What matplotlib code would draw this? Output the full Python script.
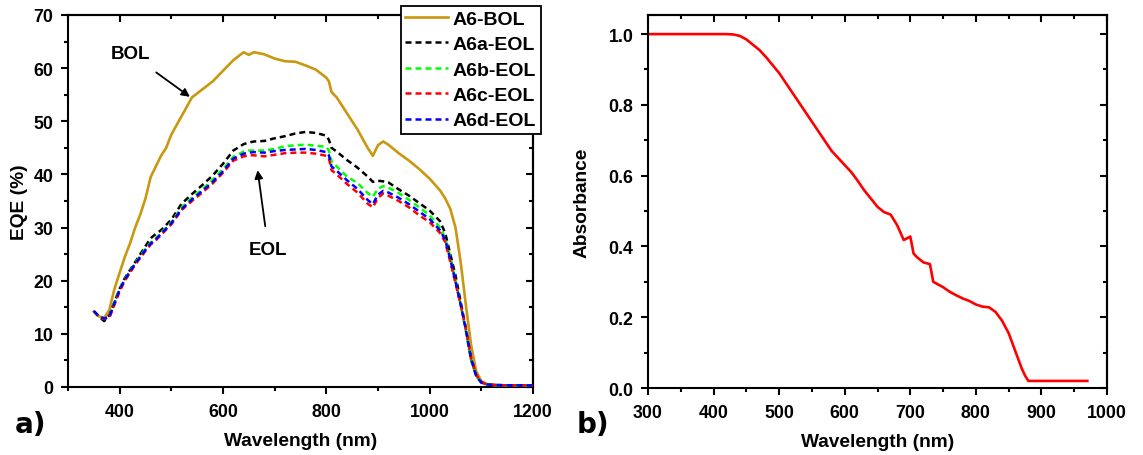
import matplotlib
matplotlib.use("Agg")
import matplotlib.pyplot as plt
from matplotlib.ticker import MultipleLocator, FormatStrFormatter

# ---------------- data: EQE (panel a) ----------------
wavelength = [350, 360, 370, 380, 390, 400, 410, 420, 430, 440, 450, 460, 470, 480, 490,
              500, 520, 540, 560, 580, 600, 620, 640, 650, 660, 680, 700, 720, 740, 760,
              780, 800, 805, 810, 820, 840, 860, 880, 890, 900, 910, 920, 940, 960, 980,
              1000, 1020, 1030, 1040, 1050, 1060, 1070, 1080, 1090, 1100, 1110, 1120, 1150, 1200]

a6_bol = [14.2, 13.3, 13.0, 14.5, 18.5, 21.5, 24.5, 27.0, 30.0, 32.5, 35.5, 39.5, 41.5, 43.5, 45.0,
          47.5, 51.0, 54.5, 56.0, 57.5, 59.5, 61.5, 63.0, 62.5, 63.0, 62.6, 61.8, 61.3, 61.2, 60.5,
          59.7, 58.2, 57.5, 55.5, 54.5, 51.5, 48.5, 45.0, 43.5, 45.5, 46.2, 45.6, 44.0, 42.6, 41.0,
          39.2, 37.0, 35.5, 33.5, 30.0, 23.5, 15.5, 8.0, 3.0, 1.1, 0.6, 0.4, 0.3, 0.3]

a6a_eol = [14.2, 13.2, 12.4, 13.5, 16.0, 18.5, 20.5, 22.0, 23.5, 25.0, 26.5, 28.0, 28.8, 29.5, 30.5,
           31.5, 34.5, 36.3, 38.0, 39.8, 42.0, 44.5, 45.7, 46.0, 46.2, 46.3, 46.8, 47.2, 47.7, 48.0,
           47.8, 47.3, 46.5, 45.0, 44.3, 42.7, 41.3, 39.6, 38.6, 38.8, 38.7, 38.5, 37.2, 36.0, 34.6,
           33.2, 31.2, 29.0, 25.0, 21.0, 16.0, 11.0, 5.5, 2.2, 0.9, 0.5, 0.4, 0.3, 0.3]

a6b_eol = [14.2, 13.2, 12.8, 13.2, 16.0, 18.5, 20.3, 21.8, 23.3, 24.7, 26.0, 27.2, 28.0, 29.0, 30.0,
           31.0, 33.8, 35.6, 37.2, 39.0, 41.0, 43.3, 44.3, 44.5, 44.5, 44.5, 44.8, 45.3, 45.5, 45.6,
           45.4, 45.2, 44.5, 42.5, 41.5, 39.6, 38.4, 36.5, 35.8, 37.3, 37.8, 37.5, 36.5, 35.2, 33.8,
           32.3, 30.0, 28.0, 24.5, 20.0, 15.5, 10.5, 5.0, 2.0, 0.8, 0.5, 0.4, 0.3, 0.3]

a6c_eol = [14.3, 13.2, 12.8, 13.0, 15.5, 18.0, 20.0, 21.5, 23.0, 24.3, 25.6, 26.8, 27.6, 28.6, 29.6,
           30.6, 33.3, 35.0, 36.6, 38.3, 40.3, 42.6, 43.4, 43.6, 43.6, 43.4, 43.7, 44.0, 44.1, 44.1,
           43.9, 43.5, 43.0, 40.8, 40.0, 38.2, 36.6, 34.5, 33.8, 35.6, 36.4, 36.0, 35.0, 33.8, 32.3,
           31.0, 29.0, 27.3, 23.5, 19.5, 15.5, 11.0, 5.5, 2.3, 0.9, 0.5, 0.4, 0.3, 0.3]

a6d_eol = [14.3, 13.3, 12.9, 13.2, 15.8, 18.3, 20.2, 21.7, 23.2, 24.5, 25.8, 27.0, 27.8, 28.8, 29.8,
           30.8, 33.5, 35.3, 36.9, 38.6, 40.6, 43.0, 43.9, 44.1, 44.2, 44.1, 44.4, 44.6, 44.7, 44.8,
           44.6, 44.2, 43.6, 41.5, 40.7, 38.9, 37.3, 35.2, 34.4, 36.2, 36.9, 36.6, 35.6, 34.4, 33.0,
           31.6, 29.5, 27.7, 24.0, 19.8, 15.5, 10.8, 5.3, 2.1, 0.8, 0.5, 0.4, 0.3, 0.3]

series_labels = ["A6-BOL", "A6a-EOL", "A6b-EOL", "A6c-EOL", "A6d-EOL"]

# ---------------- data: absorbance (panel b) ----------------
wavelength_abs = [300, 420, 430, 440, 450, 460, 470, 480, 500, 520, 540, 560, 580, 600, 610, 620,
                  630, 640, 650, 660, 670, 680, 690, 700, 705, 710, 720, 730, 735, 740, 750, 760,
                  770, 780, 790, 800, 810, 820, 830, 840, 850, 860, 870, 875, 880, 970]
absorbance = [1.0, 1.0, 0.999, 0.995, 0.985, 0.97, 0.955, 0.935, 0.89, 0.835, 0.78, 0.725, 0.67, 0.63,
              0.61, 0.585, 0.558, 0.535, 0.512, 0.497, 0.49, 0.46, 0.418, 0.428, 0.38, 0.37, 0.355,
              0.35, 0.30, 0.295, 0.285, 0.272, 0.262, 0.253, 0.246, 0.236, 0.23, 0.228, 0.215, 0.19,
              0.155, 0.105, 0.055, 0.035, 0.02, 0.02]

# ---------------- styling ----------------
TICKFONT = dict(family="Liberation Sans", weight="bold", size=12.8)
LABELFONT = dict(family="Liberation Sans", weight="bold", fontsize=13.8)
W, H = 1143, 456
fig = plt.figure(figsize=(W / 100, H / 100), dpi=100)

def axes_px(l, t, r, b):
    return fig.add_axes([l / W, 1 - b / H, (r - l) / W, (b - t) / H])

def style_axes(ax, xmaj, xmin, ymaj, ymin, yfmt):
    for sp in ax.spines.values():
        sp.set_linewidth(1.5)
    ax.xaxis.set_major_locator(MultipleLocator(xmaj))
    ax.xaxis.set_minor_locator(MultipleLocator(xmin))
    ax.yaxis.set_major_locator(MultipleLocator(ymaj))
    ax.yaxis.set_minor_locator(MultipleLocator(ymin))
    ax.yaxis.set_major_formatter(FormatStrFormatter(yfmt))
    ax.tick_params(which="both", direction="out", top=False, right=False, width=1.5)
    ax.tick_params(axis="x", pad=6.5)
    ax.tick_params(axis="y", pad=5.5)
    ax.tick_params(which="major", length=5)
    ax.tick_params(which="minor", length=3)
    for lab in ax.get_xticklabels() + ax.get_yticklabels():
        lab.set_fontproperties(matplotlib.font_manager.FontProperties(**TICKFONT))
    secx = ax.secondary_xaxis("top")
    secx.xaxis.set_major_locator(MultipleLocator(xmaj))
    secx.xaxis.set_minor_locator(MultipleLocator(xmin))
    secx.tick_params(which="both", direction="in", labeltop=False, width=1.5)
    secx.tick_params(which="major", length=5)
    secx.tick_params(which="minor", length=3)
    secx.spines["top"].set_linewidth(1.5)
    secy = ax.secondary_yaxis("right")
    secy.yaxis.set_major_locator(MultipleLocator(ymaj))
    secy.yaxis.set_minor_locator(MultipleLocator(ymin))
    secy.tick_params(which="both", direction="in", labelright=False, width=1.5)
    secy.tick_params(which="major", length=5)
    secy.tick_params(which="minor", length=3)
    secy.spines["right"].set_linewidth(1.5)

# ---------------- panel a ----------------
ax1 = axes_px(68, 16, 533, 388)
colors = ["#C9980F", "black", "#00FF00", "#FF0000", "#0000FF"]
all_series = [a6_bol, a6a_eol, a6b_eol, a6c_eol, a6d_eol]
for i, (ys, c, lab) in enumerate(zip(all_series, colors, series_labels)):
    if i == 0:
        ax1.plot(wavelength, ys, color=c, lw=1.9, label=lab, zorder=3)
    else:
        ax1.plot(wavelength, ys, color=c, lw=1.8, ls=(0, (2.4, 1.6)), label=lab, zorder=3)
ax1.set_xlim(300, 1200)
ax1.set_ylim(0, 70)
style_axes(ax1, 200, 100, 10, 5, "%d")
ax1.set_ylabel("EQE (%)", labelpad=4, **LABELFONT)
ax1.set_xlabel("Wavelength (nm)", labelpad=9, **LABELFONT)

ax1.annotate("BOL", xy=(536, 54.6), xytext=(421, 62.7), ha="center", va="center",
             family="Liberation Sans", weight="bold", fontsize=13.5,
             arrowprops=dict(arrowstyle="-|>", color="black", lw=1.3, mutation_scale=12,
                             shrinkA=9, shrinkB=0))
ax1.annotate("EOL", xy=(667, 40.8), xytext=(688, 25.8), ha="center", va="center",
             family="Liberation Sans", weight="bold", fontsize=13.5,
             arrowprops=dict(arrowstyle="-|>", color="black", lw=1.3, mutation_scale=12,
                             shrinkA=9, shrinkB=0))

leg = ax1.legend(loc="upper left", bbox_to_anchor=(401 / W, 1 - 7 / H),
                 bbox_transform=fig.transFigure, borderaxespad=0, frameon=True,
                 fancybox=False, edgecolor="black", framealpha=1,
                 prop=dict(family="Liberation Sans", weight="bold", size=14.0),
                 handlelength=2.2, handletextpad=0.25, labelspacing=0.4, borderpad=0.22)
leg.get_frame().set_linewidth(1.3)
leg.set_zorder(10)

fig.text(15 / W, 1 - 425 / H, "a)", family="DejaVu Sans", weight="bold", fontsize=20,
         ha="left", va="center")

# ---------------- panel b ----------------
ax2 = axes_px(648, 16, 1107, 389)
ax2.plot(wavelength_abs, absorbance, color="#FF0000", lw=1.9)
ax2.set_xlim(300, 1000)
ax2.set_ylim(0.0, 1.054)
style_axes(ax2, 100, 50, 0.2, 0.1, "%.1f")
ax2.set_ylabel("Absorbance", labelpad=13, **LABELFONT)
ax2.set_xlabel("Wavelength (nm)", labelpad=9, **LABELFONT)

fig.text(577 / W, 1 - 425 / H, "b)", family="DejaVu Sans", weight="bold", fontsize=20,
         ha="left", va="center")

fig.savefig("out.png", dpi=100)
